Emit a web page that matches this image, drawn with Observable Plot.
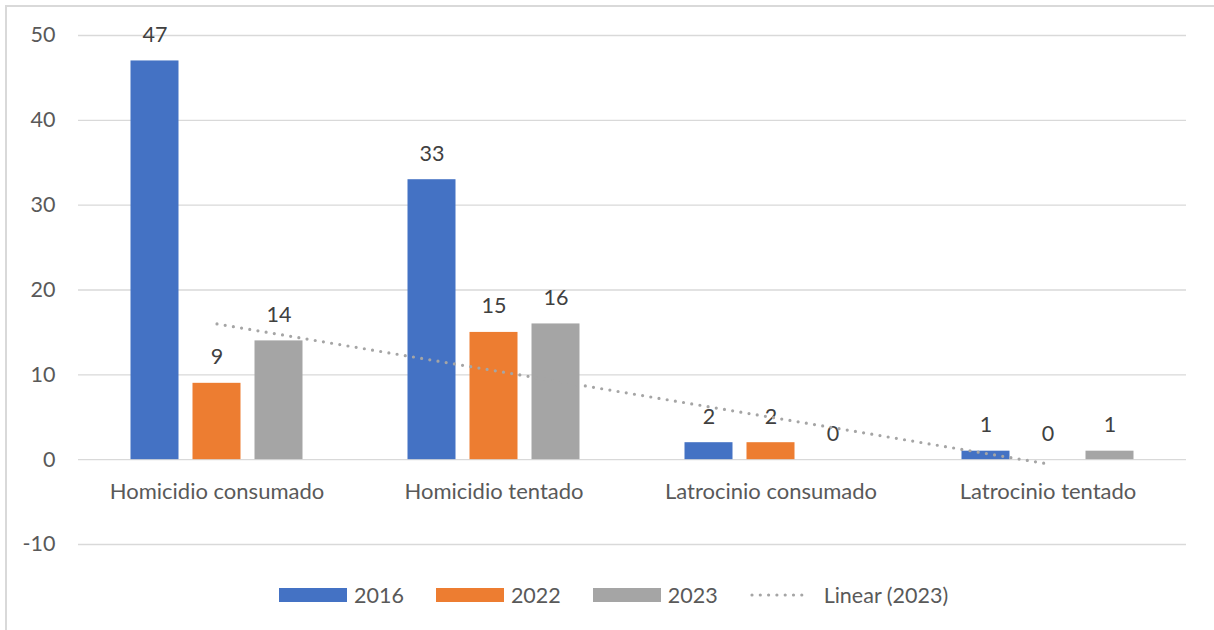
<!DOCTYPE html>
<html>
<head>
<meta charset="utf-8">
<script src="https://cdn.jsdelivr.net/npm/d3@7"></script>
<script src="https://cdn.jsdelivr.net/npm/@observablehq/plot@0.6"></script>
<style>
  html, body { margin: 0; padding: 0; background: #fff; }
  #wrap { position: relative; width: 1214px; height: 630px; overflow: hidden; font-family: Lato, "Open Sans", sans-serif; }
  #frame { position: absolute; left: 5px; top: 5px; width: 1300px; height: 700px; border-left: 2px solid #d9d9d9; border-top: 2px solid #d9d9d9; }
  #chart { position: absolute; left: 0; top: 0; }
  #legend { position: absolute; left: 279px; top: 583px; display: flex; align-items: center; color: #595959; font-size: 21.5px; height: 24px; }
  .item { display: flex; align-items: center; margin-right: 32px; }
  .sw { width: 68px; height: 14px; margin-right: 7px; }
</style>
</head>
<body>
<div id="wrap">
  <div id="frame"></div>
  <div id="chart"></div>
  <div id="legend"></div>
</div>
<script>
const categories = ["Homicidio consumado", "Homicidio tentado", "Latrocinio consumado", "Latrocinio tentado"];
const years = ["2016", "2022", "2023"];
const values2016 = [47, 33, 2, 1];
const values2022 = [9, 15, 2, 0];
const values2023 = [14, 16, 0, 1];
const yTicks = [-10, 0, 10, 20, 30, 40, 50];
const trendLabel = "Linear (2023)";

const seriesValues = [values2016, values2022, values2023];
const colors = ["#4472C4", "#ED7D31", "#A5A5A5"];
const offsets = [-62, 0, 62];

// linear trend of the 2023 series (least squares over category index)
const idx = categories.map((_, i) => i + 1);
const mx = d3.mean(idx), my = d3.mean(values2023);
const slope = d3.sum(idx, (x, i) => (x - mx) * (values2023[i] - my)) / d3.sum(idx, x => (x - mx) ** 2);
const intercept = my - slope * mx;
const trend = categories.map((c, i) => ({cat: c, value: intercept + slope * idx[i]}));

const rowsFor = vals => categories.map((c, i) => ({cat: c, value: vals[i]}));

const marks = [
  Plot.gridY(yTicks, {stroke: "#d9d9d9", strokeOpacity: 1, strokeWidth: 1.3}),
  Plot.axisY(yTicks, {tickSize: 0, tickPadding: 23, tickFormat: d => String(d), color: "#595959", fontSize: 21.5, label: null}),
];
seriesValues.forEach((vals, i) => {
  marks.push(Plot.barY(rowsFor(vals), {x: "cat", y: "value", fill: colors[i], insetLeft: 114.5, insetRight: 114.5, dx: offsets[i]}));
});
seriesValues.forEach((vals, i) => {
  marks.push(Plot.text(rowsFor(vals), {x: "cat", y: "value", text: d => String(d.value), dx: offsets[i], dy: -26, fill: "#404040", fontSize: 21.5}));
});
marks.push(Plot.text(categories, {x: d => d, y: () => 0, dy: 32, fill: "#595959", fontSize: 22}));
marks.push(Plot.line(trend, {x: "cat", y: "value", stroke: "#A5A5A5", strokeWidth: 3.2, strokeDasharray: "0 8.3", strokeLinecap: "round"}));

const chart = Plot.plot({
  width: 1214,
  height: 570,
  marginLeft: 78,
  marginRight: 28,
  marginTop: 35,
  marginBottom: 26,
  style: {fontFamily: "Lato, 'Open Sans', sans-serif", background: "transparent", overflow: "visible"},
  x: {domain: categories, padding: 0, axis: null},
  y: {domain: [-10, 50], axis: null},
  marks
});
document.getElementById("chart").appendChild(chart);

const legend = document.getElementById("legend");
years.forEach((y, i) => {
  const it = document.createElement("div");
  it.className = "item";
  it.innerHTML = `<div class="sw" style="background:${colors[i]}"></div><span>${y}</span>`;
  legend.appendChild(it);
});
const lt = document.createElement("div");
lt.className = "item";
lt.innerHTML = `<svg width="62" height="14" style="margin-right:12px"><line x1="2" y1="7" x2="60" y2="7" stroke="#A5A5A5" stroke-width="3.2" stroke-dasharray="0 8.3" stroke-linecap="round"/></svg><span>${trendLabel}</span>`;
legend.appendChild(lt);
</script>
</body>
</html>
